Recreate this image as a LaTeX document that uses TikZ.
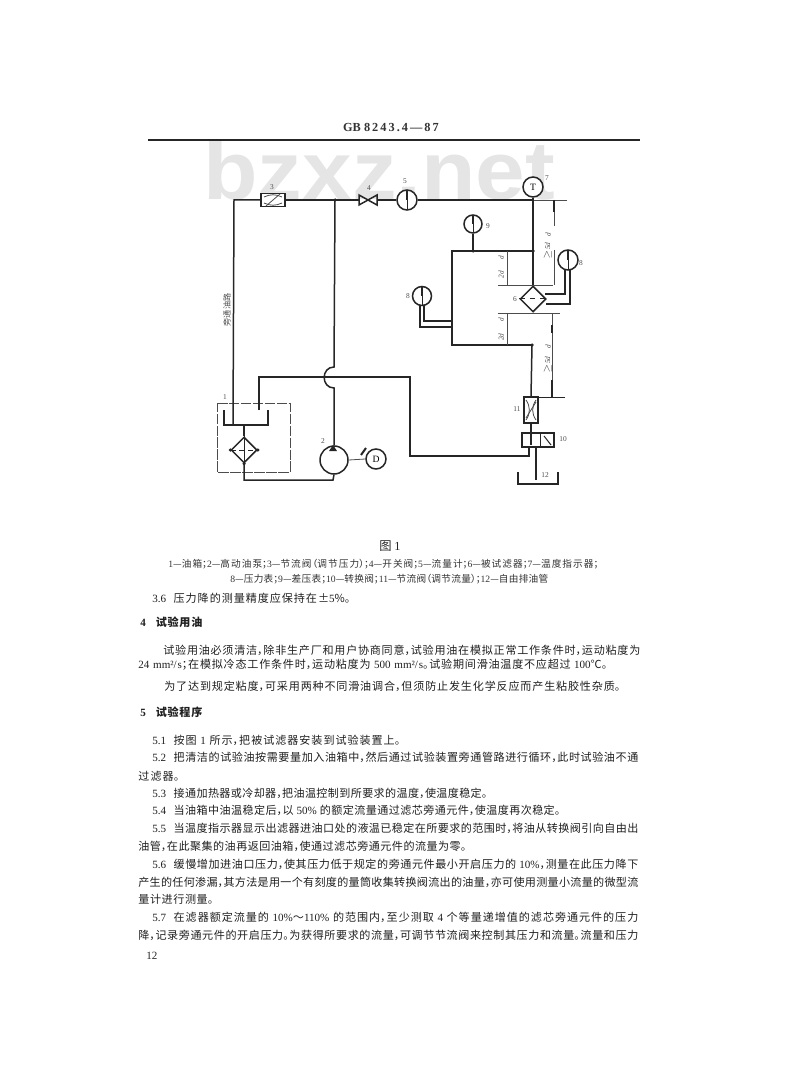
\documentclass[tikz,border=0pt]{standalone}
\usepackage{fontspec}
\setmainfont{Liberation Serif}
\newfontfamily\cjk[RawFeature=+halt]{Noto Sans CJK SC}
\newfontfamily\wmark{Liberation Sans}
\usetikzlibrary{shapes.geometric}
\XeTeXlinebreaklocale "zh"
\XeTeXlinebreakskip=0pt plus .6pt minus .05pt
\tikzset{
 pipe/.style={line width=.3mm, draw=black!85},
 thinline/.style={line width=.16mm, draw=black!70},
 gauge/.style={shape=circle, draw=black!85, line width=.3mm, minimum size=4mm, inner sep=0, fill=white,
  path picture={\draw[line width=.3mm] (path picture bounding box.north) -- (path picture bounding box.center);
   \draw[line width=.14mm] (path picture bounding box.center) -- (path picture bounding box.south);}},
 dial/.style={shape=circle, draw=black!85, line width=.3mm, inner sep=0, fill=white, font=\fontsize{5.5}{6}\selectfont},
 filterbox/.style={shape=diamond, draw=black!85, line width=.3mm, minimum size=5.2mm, inner sep=0, aspect=1, fill=white},
 valvebox/.style={shape=rectangle, draw=black!85, line width=.3mm, inner sep=0, fill=white},
 junction/.style={shape=circle, minimum size=.7mm, inner sep=0, fill=black!85},
 tag/.style={font=\fontsize{4.2}{5}\selectfont, inner sep=0, text=black!70},
 dimtag/.style={font=\fontsize{4.2}{5}\itshape\selectfont, inner sep=0, rotate=90, text=black!70},
 bodytext/.style={anchor=west, inner sep=0, font=\cjk\fontsize{6.3}{8}\selectfont, text=black!88},
 captext/.style={anchor=west, inner sep=0, font=\cjk\fontsize{5.5}{7}\selectfont, text=black!80},
 headtext/.style={anchor=west, inner sep=0, font=\cjk\bfseries\fontsize{6.3}{8}\selectfont, text=black!88}
}
\newcommand{\GBline}[6][bodytext]{\node[#1] (#2) at (#3,#4) {\parbox{#5\dimexpr.2mm\relax}{\parfillskip=0pt #6}};}
\newcommand{\Ln}[1]{{\rmfamily #1}}
\begin{document}
\begin{tikzpicture}[x=.2mm,y=-.2mm]
\useasboundingbox (0,0) rectangle (800,1090);
\node[anchor=base west, inner sep=0, xscale=1.08, text=black!10, font=\wmark\bfseries\fontsize{47}{50}\selectfont] (wmark) at (203,200) {bzxz.net};
% page head
\node[inner sep=0, font=\fontsize{7}{8}\bfseries\selectfont, text=black!80] (head) at (391,128) {GB 8\,2\,4\,3\,.\,4\,---\,8\,7};
\coordinate (ruleL) at (148,140);
\coordinate (ruleR) at (640,140);
\draw[pipe] (ruleL)--(ruleR);
% oil tank and its filter
\coordinate (tankTL) at (224,410);
\coordinate (tankBL) at (224,425);
\coordinate (tankBR) at (268,425);
\coordinate (tankTR) at (268,410);
\coordinate (tankIn) at (233,425);
\coordinate (tankOut) at (259,410);
\coordinate (tankMid) at (244,425);
\draw[pipe] (tankTL)--(tankBL)--(tankBR)--(tankTR);
\coordinate (heatA) at (217,403);
\coordinate (heatB) at (290,403);
\coordinate (heatC) at (290,472);
\coordinate (heatD) at (217,472);
\draw[thinline, dash pattern=on 6pt off .8pt] (heatA)--(heatB)--(heatC)--(heatD)--cycle;
\node[filterbox] (f1) at (244,450) {};
\draw[pipe, line width=.2mm, densely dashed] (f1.west)--(f1.east);
\draw[pipe, line width=.2mm] (f1.north)--(f1.south);
\node[junction] at (f1.west) {};
\node[junction] at (f1.east) {};
\node[junction] at (f1.south) {};
\draw[pipe] (tankMid)--(f1.north);
% pump and motor
\node[shape=circle, draw=black!85, line width=.3mm, minimum size=5.6mm, inner sep=0] (pump) at (334,460) {};
\node[dial, minimum size=4mm] (motor) at (376,459) {D};
\draw[thinline] (pump.east)--(motor.west);
\coordinate (tickA) at (361,455);
\coordinate (tickB) at (366,448);
\draw[pipe, line width=.4mm] (tickA)--(tickB);
\coordinate (low) at (244,480);
\coordinate (lowR) at (333,480);
\draw[pipe] (f1.south)--(low)--(lowR)--(pump.south);
\fill[black!85] (329,451)--(333,445)--(337,451)--cycle;
% loop back to the valves
\coordinate (topL) at (234,200);
\coordinate (j1) at (335,200);
\coordinate (v4a) at (359,200);
\coordinate (v4b) at (377,200);
\coordinate (jT) at (533,200);
\coordinate (topEnd) at (567,200);
\coordinate (jumpA) at (334,367);
\coordinate (jumpB) at (334,388);
\coordinate (crossL) at (259,377);
\coordinate (crossM) at (324,377);
\coordinate (crossR) at (410,377);
\coordinate (retC) at (410,456);
\coordinate (retD) at (529,456);
\coordinate (retE) at (529,447);
\node[valvebox, minimum width=4.8mm, minimum height=2.6mm] (v3) at (273,200) {};
\draw[thinline] (v3.center) +(-7,6) -- +(7,-6);
\draw[thinline] (v3.center) +(-9,-3) to[bend left=25] +(9,-3);
\draw[thinline] (v3.center) +(-9,3) to[bend right=25] +(9,3);
\draw[pipe] (tankIn)--(topL)--(v3);
\draw[pipe] (v3)--(j1)--(v4a);
\node[junction] at (j1) {};
\draw[pipe] (v4a) +(0,-5) -- +(18,5) -- +(18,-5) -- +(0,5) -- cycle;
\node[gauge] (g5) at (407,200) {};
\draw[pipe] (v4b)--(g5);
\draw[pipe] (g5)--(jT);
\draw[thinline] (jT)--(topEnd);
\draw[pipe] (j1)--(jumpA) to[out=180,in=180,looseness=1.6] (jumpB)--(pump.north);
\draw[pipe] (tankOut)--(crossL)--(crossM);
\draw[pipe] (crossM)--(crossR)--(retC)--(retD)--(retE);
% filter under test with its gauges
\node[dial, minimum size=4mm] (gT) at (533,187) {T};
\draw[pipe] (gT)--(jT);
\node[filterbox] (f6) at (533,299) {};
\draw[pipe, line width=.2mm, dashed] (f6.west)--(f6.east);
\coordinate (j2) at (533,251);
\coordinate (j3) at (532,345);
\coordinate (loopA) at (452,251);
\coordinate (loopB) at (452,345);
\draw[pipe] (jT)--(j2)--(f6.north);
\node[gauge, minimum size=3.6mm] (g9) at (473,224) {};
\coordinate (j4) at (473,251);
\draw[pipe] (j2)--(loopA)--(loopB)--(j3);
\draw[pipe] (g9)--(j4);
\node[junction] at (j2) {};
\node[junction] at (j3) {};
\node[junction] at (j4) {};
\node[gauge] (g8) at (568,260) {};
\coordinate (r1) at (545,294);
\coordinate (r2) at (565,294);
\coordinate (r3) at (565,269);
\coordinate (r4) at (546,304);
\coordinate (r5) at (570,304);
\coordinate (r6) at (570,269);
\draw[pipe] (r1)--(r2)--(r3);
\draw[pipe] (r4)--(r5)--(r6);
\node[gauge, minimum size=3.8mm] (g8b) at (422,296) {};
\coordinate (l1) at (420,305);
\coordinate (l2) at (420,327);
\coordinate (l3) at (452,327);
\coordinate (l4) at (424,305);
\coordinate (l5) at (424,321);
\coordinate (l6) at (452,321);
\draw[pipe] (l1)--(l2)--(l3);
\draw[pipe] (l4)--(l5)--(l6);
% throttle, change-over valve, free outlet
\node[valvebox, minimum width=2.8mm, minimum height=5.2mm] (v11) at (531,410) {};
\draw[thinline] (v11.center) +(-5,8) -- +(5,-8);
\draw[thinline] (v11.center) +(-5,-10) to[bend left=35] +(-5,10);
\draw[thinline] (v11.center) +(5,-10) to[bend right=35] +(5,10);
\node[valvebox, minimum width=6.4mm, minimum height=2.8mm] (v10) at (538,440) {};
\coordinate (v10top) at (540,433);
\coordinate (v10bot) at (540,447);
\draw[pipe, line width=.2mm] (v10top)--(v10bot);
\coordinate (slashA) at (544,436);
\coordinate (slashB) at (551,445);
\draw[pipe, line width=.2mm] (slashA)--(slashB);
\coordinate (v10in) at (531,433);
\coordinate (v10mid) at (531,445);
\coordinate (outA) at (536,447);
\coordinate (outB) at (536,480);
\draw[pipe] (j3)--(v11.north);
\draw[pipe] (v11.south)--(v10in)--(v10mid);
\draw[pipe] (outA)--(outB);
\coordinate (can1) at (518,472);
\coordinate (can2) at (518,484);
\coordinate (can3) at (558,484);
\coordinate (can4) at (558,472);
\draw[pipe] (can1)--(can2)--(can3)--(can4);
% dimension lines
\coordinate (d1) at (554,200);
\coordinate (d2) at (554,226);
\coordinate (d3) at (554,250);
\coordinate (d4) at (554,285);
\draw[thinline] (d1)--(d2);
\draw[thinline] (d3)--(d4);
\draw[pipe] (d1)--(554,212);
\coordinate (e1) at (498,285);
\coordinate (e2) at (553,285);
\draw[thinline] (e1)--(e2);
\coordinate (e3) at (498,313);
\coordinate (e4) at (560,313);
\draw[thinline] (e3)--(e4);
\coordinate (e5) at (507,251);
\coordinate (e6) at (507,285);
\coordinate (e7) at (507,313);
\coordinate (e8) at (507,345);
\draw[thinline] (e5)--(e6);
\draw[thinline] (e7)--(e8);
\coordinate (d5) at (552,313);
\coordinate (d6) at (552,397);
\coordinate (d7) at (538,397);
\coordinate (d8) at (565,397);
\draw[thinline] (d5)--(d6);
\draw[pipe] (552,325)--(552,333);
\draw[pipe] (d6)--(552,380);
\draw[pipe, line width=.2mm] (d7)--(d8);
% dimension and part labels
\node[dimtag] (t1) at (548,235) {d};
\node[dimtag] (t2) at (548,251) {$\geq$5d};
\node[dimtag] (t3) at (501,258) {d};
\node[dimtag] (t4) at (501,275) {2d};
\node[dimtag] (t5) at (501,320) {d};
\node[dimtag] (t6) at (501,337) {2d};
\node[dimtag] (t7) at (548,347) {d};
\node[dimtag] (t8) at (548,365) {$\geq$5d};
\node[tag] (n1) at (225,397) {1};
\node[tag] (n2) at (323,441) {2};
\node[tag] (n3) at (272,187) {3};
\node[tag] (n4) at (369,188) {4};
\node[tag] (n5) at (405,181) {5};
\node[tag] (n6) at (515,299) {6};
\node[tag] (n7) at (547,178) {7};
\node[tag] (n8) at (581,263) {8};
\node[tag] (n8b) at (408,296) {8};
\node[tag] (n9) at (488,226) {9};
\node[tag] (n10) at (563,439) {10};
\node[tag] (n11) at (517,409) {11};
\node[tag] (n12) at (545,475) {12};
\node[tag, rotate=90, font=\cjk\fontsize{4.6}{5}\selectfont] (bypass) at (227,310) {旁通油路};
% caption
\node[inner sep=0, font=\cjk\fontsize{7}{8}\selectfont, text=black!85] (figtitle) at (390,546) {图 \Ln{1}};
\GBline[captext]{cap1}{168}{564}{430}{\Ln{1}—油箱；\Ln{2}—高动油泵；\Ln{3}—节流阀（调节压力）；\Ln{4}—开关阀；\Ln{5}—流量计；\Ln{6}—被试滤器；\Ln{7}—温度指示器；}
\GBline[captext]{cap2}{230}{579}{318}{\Ln{8}—压力表；\Ln{9}—差压表；\Ln{10}—转换阀；\Ln{11}—节流阀（调节流量）；\Ln{12}—自由排油管}
% body text
\GBline{s36}{152}{598}{198}{\Ln{3.6}\hspace{1.5mm}压力降的测量精度应保持在±\Ln{5}\%。}
\GBline[headtext]{s4}{140}{622}{62}{\Ln{4}\hspace{2mm}试验用油}
\GBline{p1}{163}{650}{477}{试验用油必须清洁，除非生产厂和用户协商同意，试验用油在模拟正常工作条件时，运动粘度为}
\GBline{p2}{138}{665}{469}{\Ln{24 mm²/s}；在模拟冷态工作条件时，运动粘度为 \Ln{500 mm²/s}。试验期间滑油温度不应超过 \Ln{100}℃。}
\GBline{p3}{164}{686}{456}{为了达到规定粘度，可采用两种不同滑油调合，但须防止发生化学反应而产生粘胶性杂质。}
\GBline[headtext]{s5}{140}{712}{62}{\Ln{5}\hspace{2mm}试验程序}
\GBline{s51}{152}{740}{248}{\Ln{5.1}\hspace{1.5mm}按图 \Ln{1} 所示，把被试滤器安装到试验装置上。}
\GBline{s52}{152}{757}{486}{\Ln{5.2}\hspace{1.5mm}把清洁的试验油按需要量加入油箱中，然后通过试验装置旁通管路进行循环，此时试验油不通}
\GBline{s52b}{138}{776}{41}{过滤器。}
\GBline{s53}{152}{793}{335}{\Ln{5.3}\hspace{1.5mm}接通加热器或冷却器，把油温控制到所要求的温度，使温度稳定。}
\GBline{s54}{152}{810}{408}{\Ln{5.4}\hspace{1.5mm}当油箱中油温稳定后，以 \Ln{50\%} 的额定流量通过滤芯旁通元件，使温度再次稳定。}
\GBline{s55}{152}{828}{486}{\Ln{5.5}\hspace{1.5mm}当温度指示器显示出滤器进油口处的液温已稳定在所要求的范围时，将油从转换阀引向自由出}
\GBline{s55b}{138}{846}{328}{油管，在此聚集的油再返回油箱，使通过滤芯旁通元件的流量为零。}
\GBline{s56}{152}{864}{486}{\Ln{5.6}\hspace{1.5mm}缓慢增加进油口压力，使其压力低于规定的旁通元件最小开启压力的 \Ln{10\%}，测量在此压力降下}
\GBline{s56b}{138}{882}{500}{产生的任何渗漏，其方法是用一个有刻度的量筒收集转换阀流出的油量，亦可使用测量小流量的微型流}
\GBline{s56c}{138}{899}{75}{量计进行测量。}
\GBline{s57}{152}{917}{486}{\Ln{5.7}\hspace{1.5mm}在滤器额定流量的 \Ln{10\%}～\Ln{110\%} 的范围内，至少测取 \Ln{4} 个等量递增值的滤芯旁通元件的压力}
\GBline{s57b}{138}{935}{500}{降，记录旁通元件的开启压力。为获得所要求的流量，可调节节流阀来控制其压力和流量。流量和压力}
\node[anchor=west, inner sep=0, font=\fontsize{6.3}{8}\selectfont, text=black!85] (pageno) at (146,956) {12};
\end{tikzpicture}
\end{document}
